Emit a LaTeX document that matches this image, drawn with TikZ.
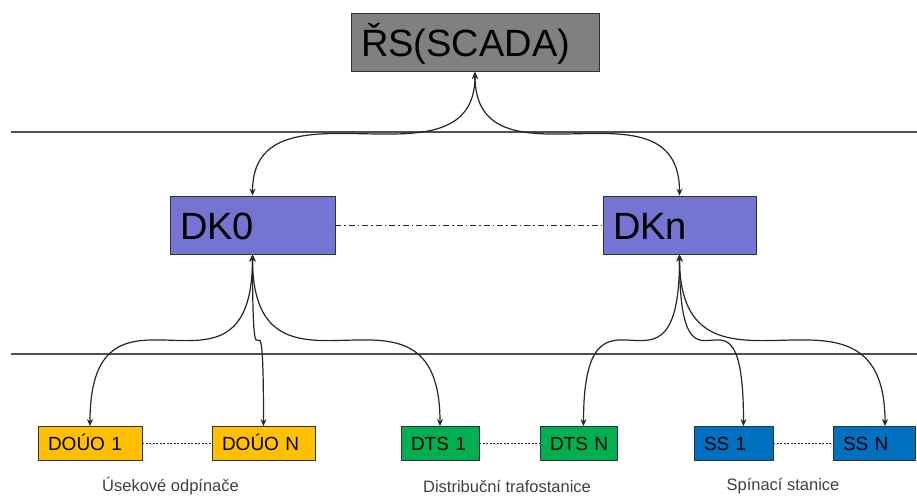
\documentclass[tikz,border=0pt]{standalone}
\usepackage{fontspec}
\setmainfont{Liberation Sans}
\usepackage{xcolor}
\usepackage{tikz}
\usetikzlibrary{arrows.meta}

\definecolor{scadagray}{RGB}{128,128,128}
\definecolor{dkviolet}{RGB}{116,116,210}
\definecolor{douogold}{RGB}{255,192,0}
\definecolor{dtsgreen}{RGB}{0,176,80}
\definecolor{ssblue}{RGB}{0,112,192}
\definecolor{levelgray}{RGB}{80,80,80}

\begin{document}
\begin{tikzpicture}[x=1pt,y=-1pt,
        box/.style={draw=black!80, line width=0.8pt, inner xsep=10pt, inner ysep=2pt, align=left},
        bigbox/.style={box, minimum height=58pt, text height=28pt, text depth=0pt, font=\fontsize{38}{40}\selectfont},
        smallbox/.style={box, minimum height=34pt, text height=14pt, text depth=0pt, font=\fontsize{19}{21}\selectfont},
        link/.style={<->, >={Stealth[length=7pt,width=6pt]}, line width=1.2pt, black!85},
        group/.style={text=black!75, font=\fontsize{16.5}{18}\selectfont}]
        \useasboundingbox (0,0) rectangle (917,496);

        % Draw level lines
        \draw[levelgray, line width=1.6pt] (11,132) -- (917,132);
        \draw[levelgray, line width=1.6pt] (11,354) -- (917,354);

        % Control system and dispatch centres
        \node[bigbox, fill=scadagray, text width=228pt] (scada) at (475,42.5) {ŘS(SCADA)};
        \node[bigbox, fill=dkviolet, text width=145pt] (dk0) at (252.5,225) {DK0};
        \node[bigbox, fill=dkviolet, text width=133pt] (dkn) at (679.5,225) {DKn};

        % Stations
        \node[smallbox, fill=douogold, text width=84pt] (douo1) at (90,443.5) {DOÚO~1};
        \node[smallbox, fill=douogold, text width=83pt] (douon) at (263.5,443.5) {DOÚO~N};
        \node[smallbox, fill=dtsgreen, text width=58pt] (dts1) at (440,443.5) {DTS~1};
        \node[smallbox, fill=dtsgreen, text width=57pt] (dtsn) at (578.5,443.5) {DTS~N};
        \node[smallbox, fill=ssblue, text width=59pt] (ss1) at (733.5,443.5) {SS~1};
        \node[smallbox, fill=ssblue, text width=62pt] (ssn) at (874,443.5) {SS~N};

        % Group labels
        \node[group] (lbldouo) at (170.5,486) {Úsekové odpínače};
        \node[group] (lbldts) at (507,486) {Distribuční trafostanice};
        \node[group] (lblss) at (783,486) {Spínací stanice};

        % Links between neighbours
        \draw[black!85, line width=0.8pt, dash pattern=on 6pt off 3pt on 1.5pt off 3pt] (dk0) -- (dkn);
        \draw[black!85, line width=0.8pt, dash pattern=on 2pt off 1.5pt] (douo1) -- (douon);
        \draw[black!85, line width=0.8pt, dash pattern=on 2pt off 1.5pt] (dts1) -- (dtsn);
        \draw[black!85, line width=0.8pt, dash pattern=on 2pt off 1.5pt] (ss1) -- (ssn);

        % Communication links
        \draw[link] (scada.south) .. controls +(0,124) and +(0,-124) .. (dk0.north);
        \draw[link] (scada.south) .. controls +(0,124) and +(0,-124) .. (dkn.north);

        \draw[link] (dk0.south) .. controls +(0,173) and +(0,-173) .. (douo1.north);
        \draw[link] (dk0.south) .. controls +(0,173) and +(0,-173) .. (douon.north);
        \draw[link] (dk0.south) .. controls +(0,173) and +(0,-173) .. (dts1.north);

        \draw[link] (dkn.south) .. controls +(0,173) and +(0,-173) .. ([xshift=5pt]dtsn.north);
        \draw[link] (dkn.south) .. controls +(0,173) and +(0,-173) .. ([xshift=10pt]ss1.north);
        \draw[link] (dkn.south) .. controls +(0,173) and +(0,-173) .. ([xshift=11pt]ssn.north);
\end{tikzpicture}
\end{document}
